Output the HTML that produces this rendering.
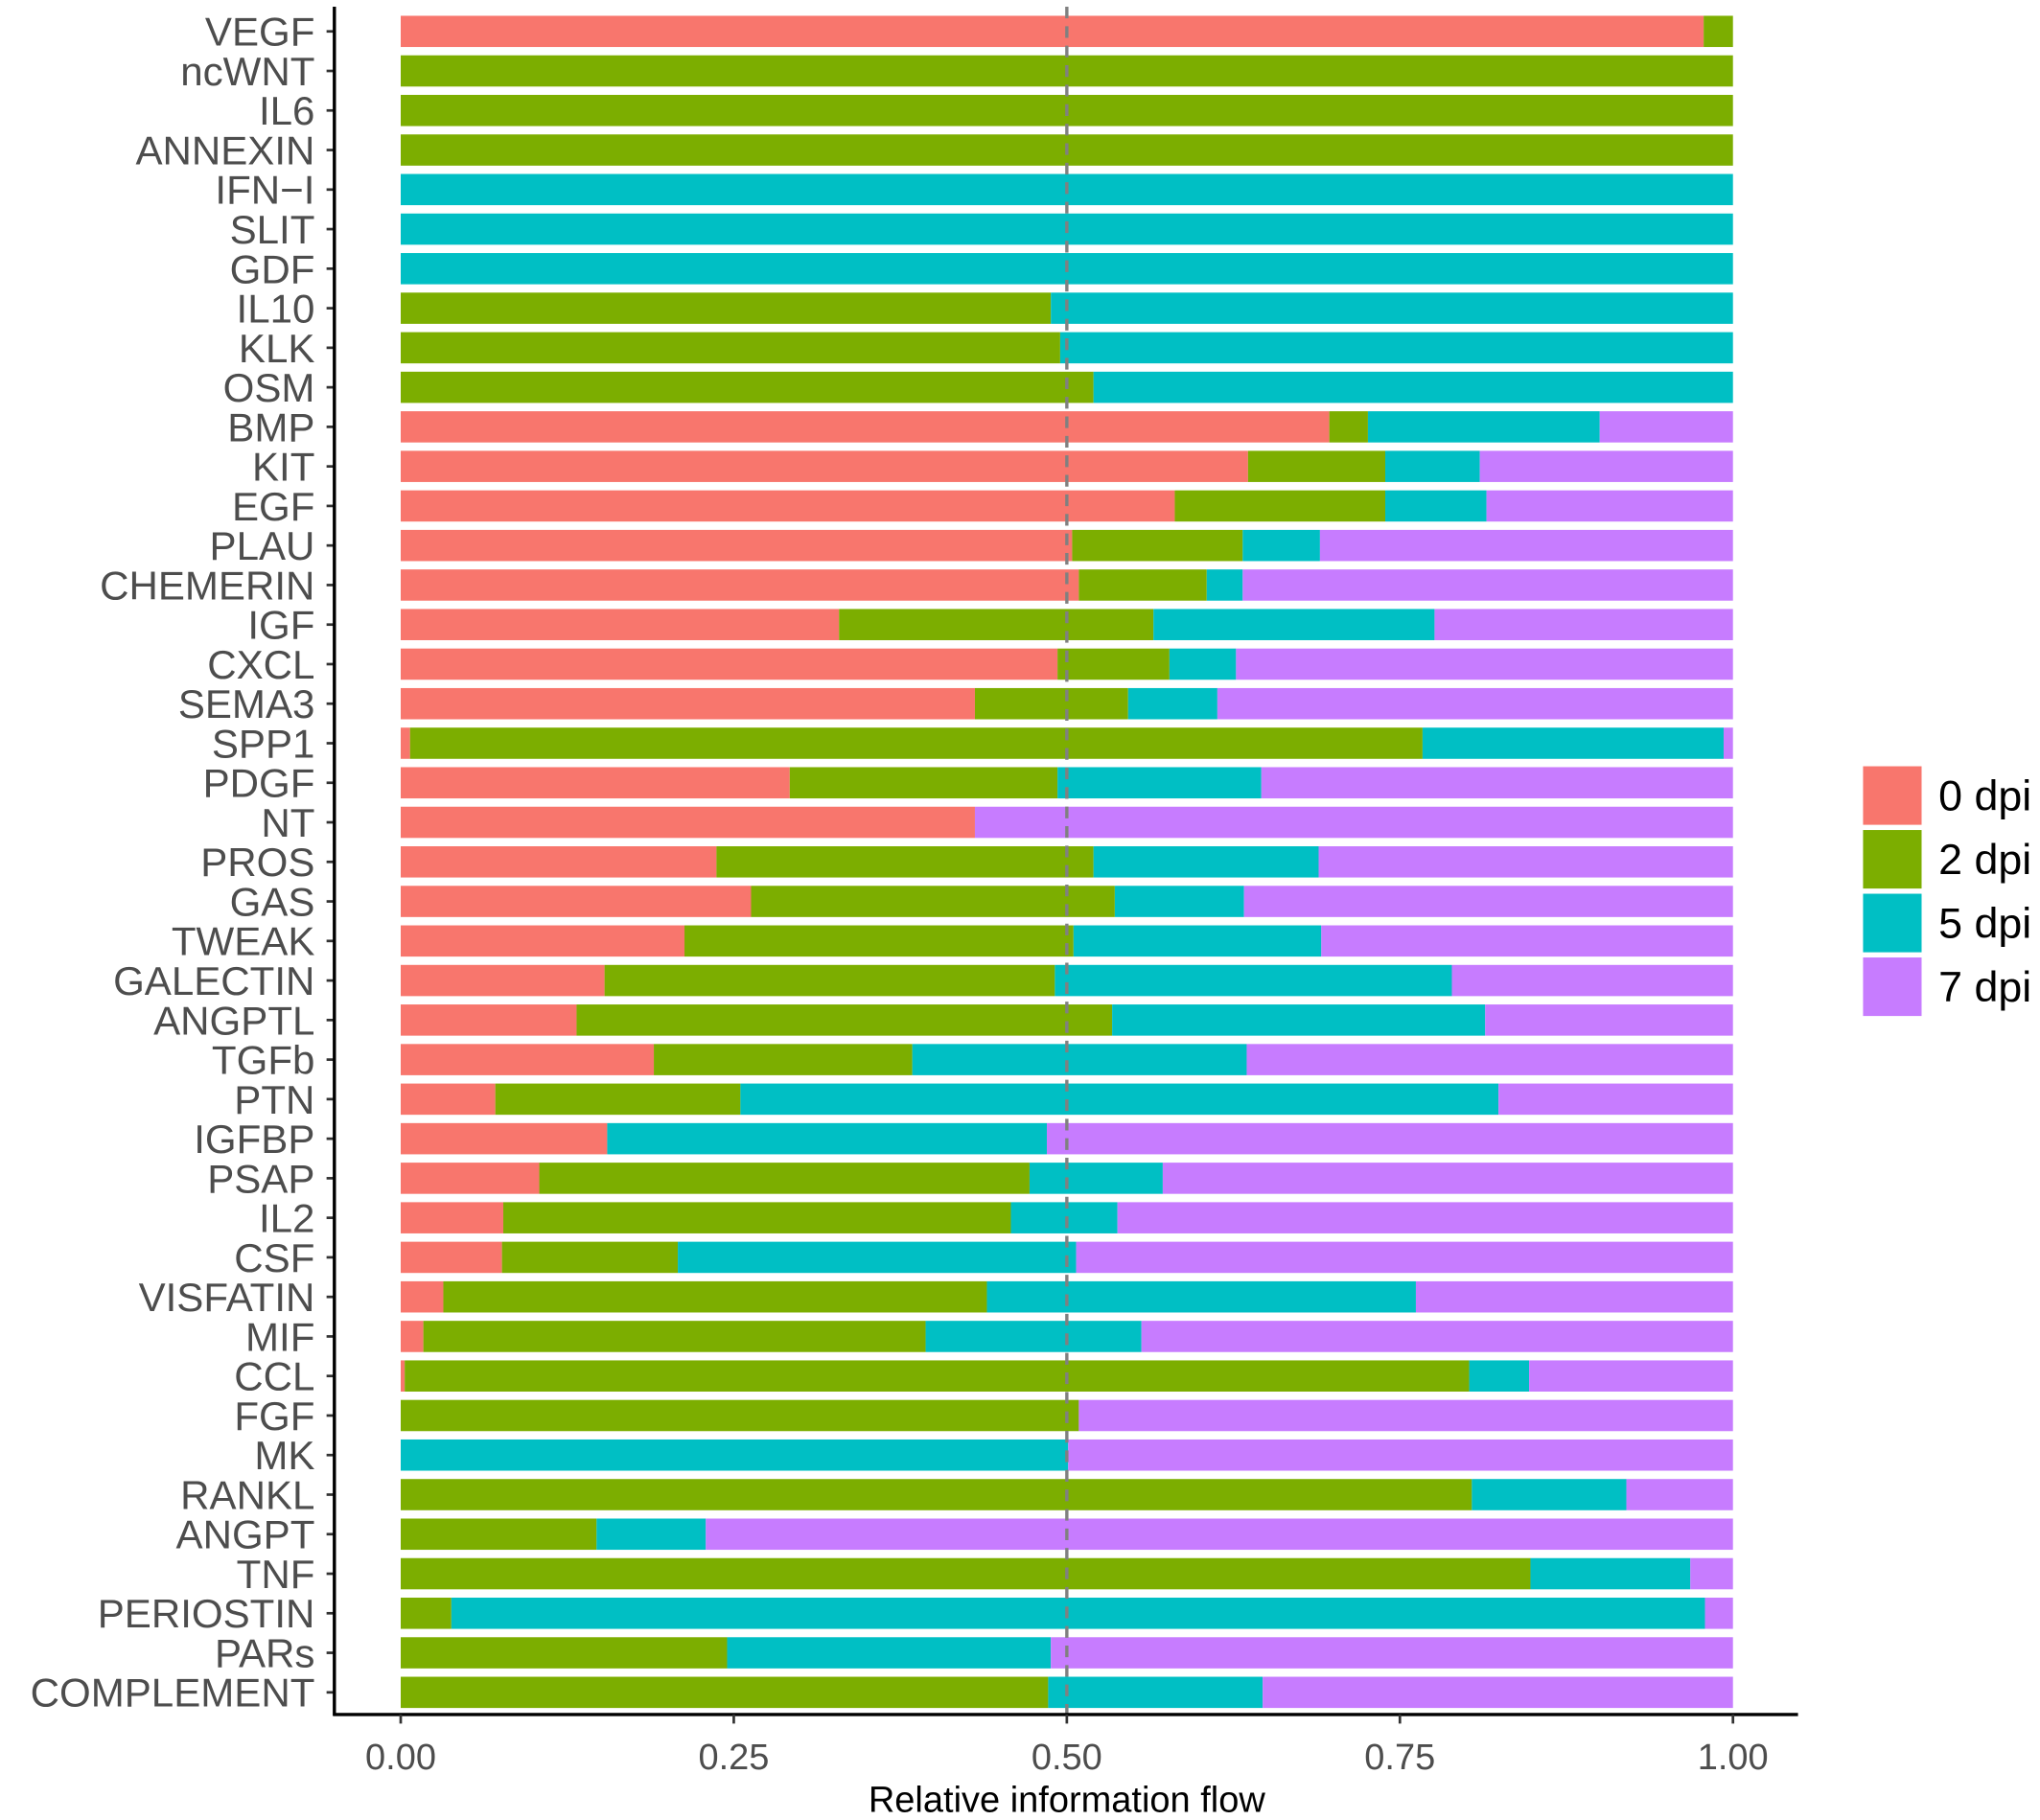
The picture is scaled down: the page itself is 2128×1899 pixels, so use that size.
<!DOCTYPE html>
<html><head><meta charset="utf-8"><style>
html,body{margin:0;padding:0;background:#fff;}
svg{display:block;font-family:"Liberation Sans",sans-serif;}
</style></head><body>
<svg id="chart" width="2128" height="1899" viewBox="0 0 1568 1399" xmlns="http://www.w3.org/2000/svg">
<g id="bars"></g>
<g id="axes"></g>
<g id="legend"></g>
</svg>
<script>
const pathways = ["VEGF","ncWNT","IL6","ANNEXIN","IFN\u2212I","SLIT","GDF","IL10","KLK","OSM","BMP","KIT","EGF","PLAU","CHEMERIN","IGF","CXCL","SEMA3","SPP1","PDGF","NT","PROS","GAS","TWEAK","GALECTIN","ANGPTL","TGFb","PTN","IGFBP","PSAP","IL2","CSF","VISFATIN","MIF","CCL","FGF","MK","RANKL","ANGPT","TNF","PERIOSTIN","PARs","COMPLEMENT"];
const dpi0 = [0.978,0,0,0,0,0,0,0,0,0,0.697,0.636,0.581,0.504,0.509,0.329,0.493,0.431,0.007,0.292,0.431,0.237,0.263,0.213,0.153,0.132,0.19,0.071,0.155,0.104,0.077,0.076,0.032,0.017,0.003,0,0,0,0,0,0,0,0];
const dpi2 = [0.022,1,1,1,0,0,0,0.488,0.495,0.52,0.029,0.103,0.158,0.128,0.096,0.236,0.084,0.115,0.76,0.201,0,0.283,0.273,0.292,0.338,0.402,0.194,0.184,0,0.368,0.381,0.132,0.408,0.377,0.799,0.509,0,0.804,0.147,0.848,0.038,0.245,0.486];
const dpi5 = [0,0,0,0,1,1,1,0.512,0.505,0.48,0.174,0.071,0.076,0.058,0.027,0.211,0.05,0.067,0.226,0.153,0,0.169,0.097,0.186,0.298,0.28,0.251,0.569,0.33,0.1,0.08,0.299,0.322,0.162,0.045,0,0.501,0.116,0.082,0.12,0.941,0.243,0.161];
const dpi7 = [0,0,0,0,0,0,0,0,0,0,0.1,0.19,0.185,0.31,0.368,0.224,0.373,0.387,0.007,0.354,0.569,0.311,0.367,0.309,0.211,0.186,0.365,0.176,0.515,0.428,0.462,0.493,0.238,0.444,0.153,0.491,0.499,0.08,0.771,0.032,0.021,0.512,0.353];
const seriesNames = ["0 dpi","2 dpi","5 dpi","7 dpi"];
const xTicks = [0,0.25,0.5,0.75,1];
const xTickLabels = ["0.00","0.25","0.50","0.75","1.00"];

const colors = ["#F8766D","#7CAE00","#00BFC4","#C77CFF"];
const NS = "http://www.w3.org/2000/svg";
const X0 = 308, X1 = 1332, Y0 = 24, Y1 = 1301, BH = 24;
function xs(v){ return X0 + v*(X1-X0); }
function ys(i){ return Y0 + i*(Y1-Y0)/(pathways.length-1); }
function mk(tag, attrs, parent){ const e=document.createElementNS(NS,tag); for(const k in attrs) e.setAttribute(k,attrs[k]); parent.appendChild(e); return e; }

const bars = document.getElementById('bars');
const axes = document.getElementById('axes');
const legend = document.getElementById('legend');
const series = [dpi0,dpi2,dpi5,dpi7];

pathways.forEach((p,i)=>{
  let cum = 0;
  series.forEach((s,k)=>{
    const v = s[i];
    if (v > 0) {
      const r = mk('rect',{x:xs(cum),y:ys(i)-BH/2,width:xs(cum+v)-xs(cum),height:BH,fill:colors[k]},bars);
      
      
    }
    cum += v;
  });
  const t = mk('text',{x:242,y:ys(i)+11,'text-anchor':'end','font-size':31,fill:'#4d4d4d'},axes);
  t.textContent = p;
  
  
  mk('line',{x1:251,x2:257,y1:ys(i),y2:ys(i),stroke:'#333','stroke-width':2},axes);
});

const dl = mk('line',{x1:xs(0.5),x2:xs(0.5),y1:5,y2:1318,stroke:'#808080','stroke-width':2.5,'stroke-dasharray':'9,6'},bars);



mk('line',{x1:257,x2:257,y1:5,y2:1319,stroke:'#000','stroke-width':2.5},axes);
mk('line',{x1:256,x2:1382,y1:1318,y2:1318,stroke:'#000','stroke-width':2.5},axes);
xTicks.forEach((v,i)=>{
  mk('line',{x1:xs(v),x2:xs(v),y1:1318,y2:1325,stroke:'#333','stroke-width':2},axes);
  const t = mk('text',{x:xs(v),y:1360,'text-anchor':'middle','font-size':28,fill:'#4d4d4d'},axes);
  t.textContent = xTickLabels[i];
  
  
});
const xt = mk('text',{x:820,y:1393,'text-anchor':'middle','font-size':28,fill:'#000'},axes);
xt.textContent = 'Relative information flow';



seriesNames.forEach((n,k)=>{
  const y = 589 + k*49;
  const r = mk('rect',{x:1432,y:y,width:45,height:45,fill:colors[k]},legend);
  
  
  const t = mk('text',{x:1490,y:y+34,'font-size':33,fill:'#000'},legend);
  t.textContent = n;
  
  
});
</script>
</body></html>
